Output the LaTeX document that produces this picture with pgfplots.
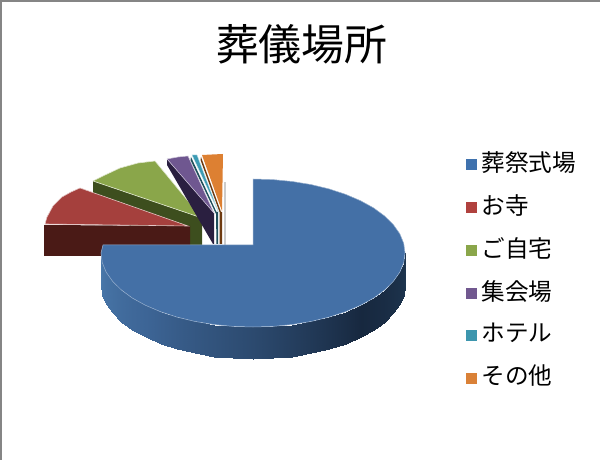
\documentclass[border=0pt]{standalone}
\usepackage{fontspec}
\usepackage{pgfplots}
\usepackage{pgfplotstable}
\pgfplotsset{compat=1.18}
\setmainfont{Noto Sans CJK JP}

\definecolor{blueTop}{HTML}{4470A6}
\definecolor{redTop}{HTML}{A5403D}
\definecolor{redSide}{HTML}{4A1A16}
\definecolor{greenTop}{HTML}{8AA64A}
\definecolor{greenSide}{HTML}{3D4E1E}
\definecolor{purpleTop}{HTML}{6F5790}
\definecolor{purpleSide}{HTML}{2A1F40}
\definecolor{tealTop}{HTML}{3C9BB4}
\definecolor{tealSide}{HTML}{1F4F5C}
\definecolor{orangeTop}{HTML}{DD8032}
\definecolor{orangeSide}{HTML}{6D3A10}
\definecolor{legBlue}{HTML}{3F72AE}
\definecolor{legRed}{HTML}{B0413E}
\definecolor{legGreen}{HTML}{8AA64A}
\definecolor{legPurple}{HTML}{71588F}
\definecolor{legTeal}{HTML}{3D96AE}
\definecolor{legOrange}{HTML}{DA8137}

% pie pieces, in picture pixels
\pgfplotstableread{
x y
253 179
272.8 179.6
292.3 181.5
311.2 184.6
329 188.9
345.5 194.3
360.5 200.7
373.6 207.9
384.6 216
393.4 224.7
399.8 233.8
403.7 243.3
405 253
403.7 262.7
399.8 272.2
393.4 281.3
384.6 290
373.6 298.1
360.5 305.3
345.5 311.7
329 317.1
311.2 321.4
292.3 324.5
272.8 326.4
253 327
233.2 326.4
213.7 324.5
194.8 321.4
177 317.1
160.5 311.7
145.5 305.3
132.4 298.1
121.4 290
112.6 281.3
106.2 272.2
102.3 262.7
101 253
103 245
253 245
}\blueTopT

% side band of the big slice: upper rim then lower rim, c = shade
\pgfplotstableread{
x y c
405 253 0
403.7 262.7 7.5
399.8 272.2 15
393.4 281.3 22.5
384.6 290 30
373.6 298.1 37.5
360.5 305.3 45
345.5 311.7 52.5
329 317.1 60
311.2 321.4 67.5
292.3 324.5 75
272.8 326.4 82.5
253 327 90
233.2 326.4 97.5
213.7 324.5 105
194.8 321.4 112.5
177 317.1 120
160.5 311.7 127.5
145.5 305.3 135
132.4 298.1 142.5
121.4 290 150
112.6 281.3 157.5
106.2 272.2 165
102.3 262.7 172.5
101 253 180
405 285 0
403.7 294.7 7.5
399.8 304.2 15
393.4 313.3 22.5
384.6 322 30
373.6 330.1 37.5
360.5 337.3 45
345.5 343.7 52.5
329 349.1 60
311.2 353.4 67.5
292.3 356.5 75
272.8 358.4 82.5
253 359 90
233.2 358.4 97.5
213.7 356.5 105
194.8 353.4 112.5
177 349.1 120
160.5 343.7 127.5
145.5 337.3 135
132.4 330.1 142.5
121.4 322 150
112.6 313.3 157.5
106.2 304.2 165
102.3 294.7 172.5
101 285 180
}\blueSide

\begin{document}
\begin{tikzpicture}
\begin{axis}[
  scale only axis,
  width=600bp, height=460bp,
  xmin=0, xmax=600, ymin=0, ymax=460,
  y dir=reverse,
  hide axis,
  title={葬儀場所},
  title style={at={(0.503,0.891)}, anchor=center, font=\fontsize{43}{46}\selectfont},
  colormap={sideShade}{rgb255=(30,54,80) rgb255=(23,40,63) rgb255=(44,74,111) rgb255=(61,101,150) rgb255=(74,121,171)},
  point meta min=0, point meta max=180,
  legend style={at={(axis cs:466,149)}, anchor=north west, draw=none, fill=none,
    font=\fontsize{23.7}{25}\selectfont, row sep=17.7bp, inner sep=0pt,
    /tikz/every odd column/.append style={column sep=3bp}},
  legend cell align=left,
  legend image code/.code={\fill[#1] (0bp,-7bp) rectangle (10bp,3bp);},
]
\addlegendimage{legBlue}\addlegendentry{葬祭式場}
\addlegendimage{legRed}\addlegendentry{お寺}
\addlegendimage{legGreen}\addlegendentry{ご自宅}
\addlegendimage{legPurple}\addlegendentry{集会場}
\addlegendimage{legTeal}\addlegendentry{ホテル}
\addlegendimage{legOrange}\addlegendentry{その他}

% frame
\addplot[forget plot, color=black!48, line width=2bp] coordinates {(0.8,460) (0.8,0.8) (600,0.8)};

% small gray sliver behind the orange piece
\addplot[forget plot, fill=black!20, draw=none] coordinates {(223.5,182) (226,182) (226,246) (223.5,246)} --cycle;

% ご自宅
\addplot[forget plot, fill=greenSide, draw=none] coordinates {(93,181) (202,218) (202,250) (93,213)} --cycle;
\addplot[forget plot, fill=greenTop, draw=white!75!greenTop, line width=0.6bp] coordinates {(93,181) (105,175) (120,168) (138,163) (155,161) (202,218)} --cycle;

% お寺
\addplot[forget plot, fill=redSide, draw=none] coordinates {(44,225) (190,226) (190,256) (44,256)} --cycle;
\addplot[forget plot, fill=redTop, draw=white!70!redTop, line width=0.6bp] coordinates {(45,224) (47,217) (53,206) (62,197) (71,192) (80,188) (188,226)} --cycle;

% 集会場
\addplot[forget plot, fill=purpleSide, draw=none] coordinates {(167,159) (214,213) (214,244) (213,244) (167,165)} --cycle;
\addplot[forget plot, fill=purpleTop, draw=white!70!purpleTop, line width=0.5bp] coordinates {(167,159) (178,157) (188,156) (214,213)} --cycle;

% ホテル
\addplot[forget plot, fill=tealSide, draw=none] coordinates {(191,157) (216.5,212) (218,212) (218,244) (216.5,244) (216,214) (190.5,160)} --cycle;
\addplot[forget plot, fill=tealTop, draw=white!70!tealTop, line width=0.4bp] coordinates {(192,155) (197,155) (218.5,212)} --cycle;

% その他
\addplot[forget plot, fill=orangeSide, draw=none] coordinates {(201,157) (221,212) (222,212) (222,244) (219.5,244) (219.5,212) (200.5,160)} --cycle;
\addplot[forget plot, fill=orangeTop, draw=none] coordinates {(202,155) (212,154.5) (223,154) (222,211)} --cycle;

% 葬祭式場
\addplot[forget plot, surf, shader=interp, mesh/rows=2, mesh/cols=25, point meta=explicit]
  table[x=x, y=y, meta=c] {\blueSide};
\addplot[forget plot, fill=blueTop, draw=blueTop!55!white, line width=0.5bp] table {\blueTopT} --cycle;
\end{axis}
\end{tikzpicture}
\end{document}
